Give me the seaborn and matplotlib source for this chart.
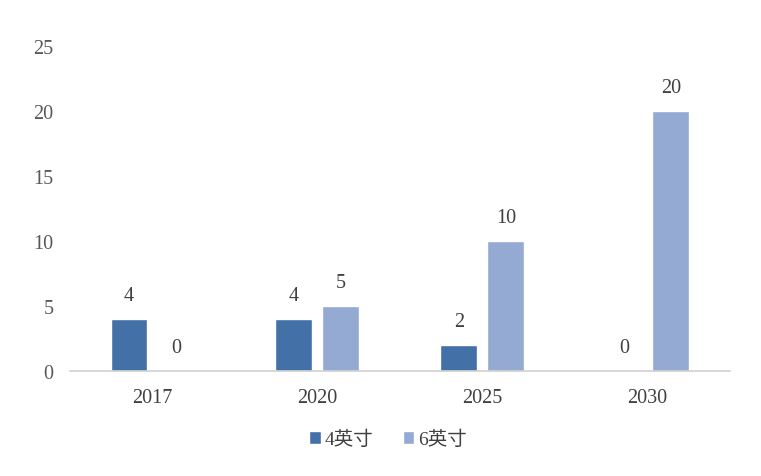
import pandas as pd
import matplotlib.pyplot as plt
import seaborn as sns

# Chart data
years = ['2017', '2020', '2025', '2030']
series_names = ['4英寸', '6英寸']
size_4inch = [4, 4, 2, 0]
size_6inch = [0, 5, 10, 20]
colors = ['#4470A8', '#94AAD3']

sns.set_style("white")
plt.rcParams['font.family'] = ['Liberation Serif', 'Noto Sans CJK SC', 'DejaVu Sans']

df = pd.DataFrame({
    'year': years * 2,
    'series': [series_names[0]] * len(years) + [series_names[1]] * len(years),
    'value': size_4inch + size_6inch,
})

fig = plt.figure(figsize=(7.61, 4.77), dpi=100)
ax = fig.add_axes([0.092, 0.22, 0.867, 0.681])

sns.barplot(data=df, x='year', y='value', hue='series', palette=colors,
            width=0.57, gap=0.214, saturation=1, ax=ax, legend=True)

# Value labels above each bar (zeros included)
for container in ax.containers:
    ax.bar_label(container, fmt='%g', padding=10, fontsize=14.5, color='#404040')

ax.set_ylim(0, 25)
ax.set_xlim(-0.5, 3.5)
ax.set_yticks([0, 5, 10, 15, 20, 25])
ax.set_xlabel('')
ax.set_ylabel('')
ax.tick_params(axis='y', length=0, pad=12, labelsize=14.5, labelcolor='#595959')
ax.tick_params(axis='x', length=0, pad=12, labelsize=14.5, labelcolor='#404040')

for side in ['top', 'right', 'left']:
    ax.spines[side].set_visible(False)
ax.spines['bottom'].set_color('#D0D0D0')
ax.spines['bottom'].set_linewidth(1.2)

handles, labels = ax.get_legend_handles_labels()
ax.get_legend().remove()
fig.legend(handles, labels, loc='center', bbox_to_anchor=(0.51, 0.077), ncol=2,
           frameon=False, fontsize=14, handlelength=0.6, handleheight=0.6,
           handletextpad=0.2, columnspacing=1.5, labelcolor='#404040')

plt.savefig('out.png', dpi=100)
plt.close()
